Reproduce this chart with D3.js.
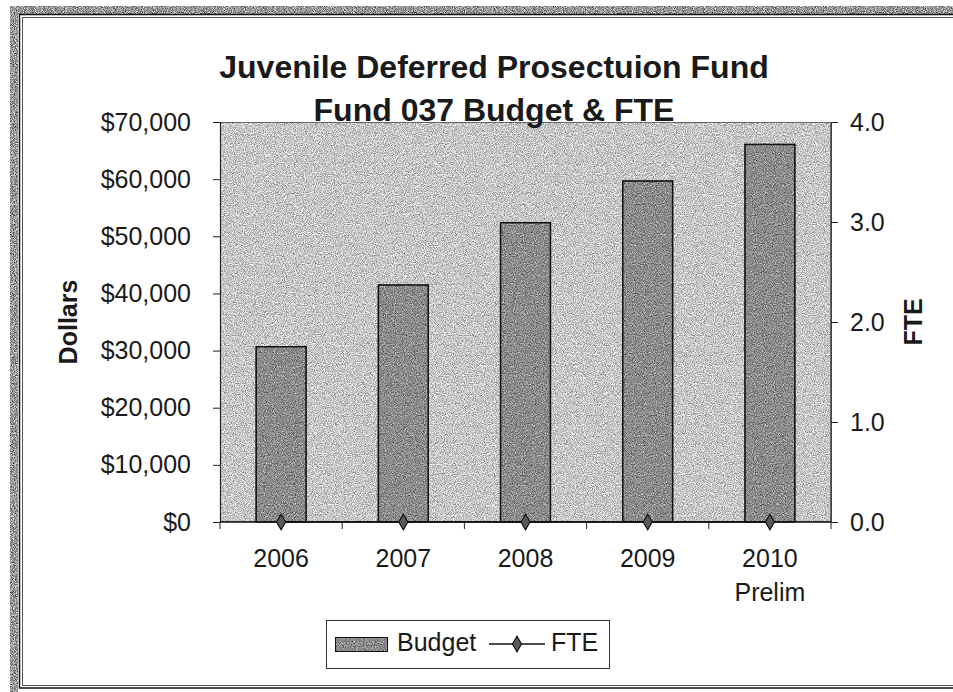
<!DOCTYPE html>
<html>
<head>
<meta charset="utf-8">
<script src="https://cdn.jsdelivr.net/npm/d3@7/dist/d3.min.js"></script>
<style>
  html, body { margin: 0; padding: 0; background: #fff; }
  svg { display: block; }
  text { font-family: "Liberation Sans", Arial, sans-serif; fill: #1a1a1a; }
</style>
</head>
<body>
<svg id="chart" width="953" height="692"></svg>
<script>
// Fund 037 budget (dollars) and staffing (FTE) by year
const categories = ["2006", "2007", "2008", "2009", "2010"];
const categorySub = ["", "", "", "", "Prelim"];
const budget = [30800, 41600, 52500, 59800, 66200];
const fte = [0, 0, 0, 0, 0];
const dollarTicks = [0, 10000, 20000, 30000, 40000, 50000, 60000, 70000];
const fteTicks = [0, 1, 2, 3, 4];
const titleLines = ["Juvenile Deferred Prosectuion Fund", "Fund 037 Budget & FTE"];

const W = 953, H = 692;
const plot = { left: 220, right: 831, top: 122, bottom: 522 };

const svg = d3.select("#chart");
const defs = svg.append("defs");

// speckled grain laid over a flat fill
function grainFilter(id, amount, seed) {
  const f = defs.append("filter").attr("id", id)
    .attr("x", 0).attr("y", 0).attr("width", 1).attr("height", 1)
    .attr("color-interpolation-filters", "sRGB");
  f.append("feTurbulence").attr("type", "fractalNoise")
    .attr("baseFrequency", 1.1).attr("numOctaves", 1).attr("seed", seed).attr("result", "noise");
  f.append("feColorMatrix").attr("in", "noise").attr("type", "matrix")
    .attr("values", "0.33 0.33 0.33 0 0  0.33 0.33 0.33 0 0  0.33 0.33 0.33 0 0  0 0 0 0 1")
    .attr("result", "gray");
  const ct = f.append("feComponentTransfer").attr("in", "gray").attr("result", "contrast");
  ["feFuncR", "feFuncG", "feFuncB"].forEach(fn =>
    ct.append(fn).attr("type", "linear").attr("slope", 3.2).attr("intercept", -1.1));
  f.append("feComposite").attr("in", "SourceGraphic").attr("in2", "contrast")
    .attr("operator", "arithmetic").attr("k1", 0).attr("k2", 1).attr("k3", amount).attr("k4", -amount / 2)
    .attr("result", "mix");
  f.append("feComposite").attr("in", "mix").attr("in2", "SourceAlpha").attr("operator", "in");
}
grainFilter("grainPlot", 0.55, 4);
grainFilter("grainBar", 0.5, 9);
grainFilter("grainFrame", 0.8, 2);

// page frame
svg.append("rect").attr("x", 0).attr("y", 0).attr("width", W).attr("height", H).attr("fill", "#fff");
svg.append("rect").attr("x", 10).attr("y", 6).attr("width", W - 10).attr("height", 8)
  .attr("fill", "#9a9a9a").attr("filter", "url(#grainFrame)");
svg.append("rect").attr("x", 10).attr("y", 6).attr("width", 8).attr("height", H - 6)
  .attr("fill", "#9a9a9a").attr("filter", "url(#grainFrame)");
svg.append("rect").attr("x", 18).attr("y", 14).attr("width", W + 10).attr("height", H - 14)
  .attr("fill", "#fff");
svg.append("rect").attr("x", 19.5).attr("y", 14.5).attr("width", W + 10).attr("height", 673.5)
  .attr("fill", "none").attr("stroke", "#111").attr("stroke-width", 1.5);
svg.append("rect").attr("x", 22.5).attr("y", 17.5).attr("width", W + 10).attr("height", 668)
  .attr("fill", "none").attr("stroke", "#555").attr("stroke-width", 1);

// scales
const x = d3.scaleBand().domain(categories)
  .range([plot.left, plot.right]).paddingInner(0.58).paddingOuter(0.29);
const y = d3.scaleLinear().domain([0, 70000]).range([plot.bottom, plot.top]);
const y2 = d3.scaleLinear().domain([0, 4]).range([plot.bottom, plot.top]);

// plot area
svg.append("rect").attr("x", plot.left).attr("y", plot.top)
  .attr("width", plot.right - plot.left).attr("height", plot.bottom - plot.top)
  .attr("fill", "#c9c9c9").attr("filter", "url(#grainPlot)");
svg.append("rect").attr("x", plot.left + 0.5).attr("y", plot.top + 0.5)
  .attr("width", plot.right - plot.left - 1).attr("height", plot.bottom - plot.top - 1)
  .attr("fill", "none").attr("stroke", "#666").attr("stroke-width", 1);

// budget bars
svg.append("g").selectAll("rect.bar").data(budget).join("rect")
  .attr("class", "bar")
  .attr("x", (d, i) => x(categories[i]))
  .attr("y", d => y(d))
  .attr("width", x.bandwidth())
  .attr("height", d => y(0) - y(d))
  .attr("fill", "#8d8d8d")
  .attr("filter", "url(#grainBar)");
svg.append("g").selectAll("rect.barEdge").data(budget).join("rect")
  .attr("class", "barEdge")
  .attr("x", (d, i) => x(categories[i]) + 0.75)
  .attr("y", d => y(d) + 0.75)
  .attr("width", x.bandwidth() - 1.5)
  .attr("height", d => y(0) - y(d) - 0.75)
  .attr("fill", "none").attr("stroke", "#111").attr("stroke-width", 1.5);

// left axis
const axL = svg.append("g").attr("transform", `translate(${plot.left},0)`)
  .call(d3.axisLeft(y).tickValues(dollarTicks).tickSize(7).tickPadding(22)
    .tickFormat(d => "$" + d3.format(",")(d)));
axL.select(".domain").attr("stroke", "#222").attr("stroke-width", 1.2);
axL.selectAll(".tick line").attr("stroke", "#222");
axL.selectAll(".tick text").attr("font-size", 25).attr("fill", "#1a1a1a")
  .attr("font-family", "Liberation Sans, Arial, sans-serif");

// right axis
const axR = svg.append("g").attr("transform", `translate(${plot.right},0)`)
  .call(d3.axisRight(y2).tickValues(fteTicks).tickSize(7).tickPadding(12)
    .tickFormat(d3.format(".1f")));
axR.select(".domain").attr("stroke", "#444").attr("stroke-width", 1);
axR.selectAll(".tick line").attr("stroke", "#222");
axR.selectAll(".tick text").attr("font-size", 25).attr("fill", "#1a1a1a")
  .attr("font-family", "Liberation Sans, Arial, sans-serif");

// category axis: baseline, ticks between categories, two-line labels
svg.append("line").attr("x1", plot.left).attr("x2", plot.right)
  .attr("y1", plot.bottom).attr("y2", plot.bottom)
  .attr("stroke", "#111").attr("stroke-width", 1.5);
const bounds = d3.range(categories.length + 1).map(i => plot.left + i * x.step());
svg.append("g").selectAll("line").data(bounds).join("line")
  .attr("x1", d => d).attr("x2", d => d)
  .attr("y1", plot.bottom).attr("y2", plot.bottom + 7)
  .attr("stroke", "#222").attr("stroke-width", 1);
const catG = svg.append("g").selectAll("text").data(categories).join("text")
  .attr("x", d => x(d) + x.bandwidth() / 2)
  .attr("y", 567)
  .attr("text-anchor", "middle").attr("font-size", 25)
  .text(d => d);
svg.append("g").selectAll("text").data(categorySub).join("text")
  .attr("x", (d, i) => x(categories[i]) + x.bandwidth() / 2)
  .attr("y", 601)
  .attr("text-anchor", "middle").attr("font-size", 25)
  .text(d => d);

// FTE line with diamond markers
const diamond = d3.symbol().type(d3.symbolDiamond).size(70);
const line = d3.line()
  .x((d, i) => x(categories[i]) + x.bandwidth() / 2)
  .y(d => y2(d));
svg.append("path").datum(fte).attr("d", line)
  .attr("fill", "none").attr("stroke", "#111").attr("stroke-width", 1.5);
svg.append("g").selectAll("path").data(fte).join("path")
  .attr("d", diamond)
  .attr("transform", (d, i) => `translate(${x(categories[i]) + x.bandwidth() / 2},${y2(d)})`)
  .attr("fill", "#5a5a5a").attr("stroke", "#111").attr("stroke-width", 1.2);

// axis titles
svg.append("text").attr("transform", `translate(68,${(plot.top + plot.bottom) / 2}) rotate(-90)`)
  .attr("text-anchor", "middle").attr("dominant-baseline", "central")
  .attr("font-size", 25).attr("font-weight", "bold").text("Dollars");
svg.append("text").attr("transform", `translate(913,${(plot.top + plot.bottom) / 2}) rotate(-90)`)
  .attr("text-anchor", "middle").attr("dominant-baseline", "central")
  .attr("font-size", 25).attr("font-weight", "bold").text("FTE");

// chart title
svg.append("g").selectAll("text").data(titleLines).join("text")
  .attr("x", 494).attr("y", (d, i) => 78 + i * 43)
  .attr("text-anchor", "middle").attr("font-size", 32).attr("font-weight", "bold")
  .attr("fill", "#2a2a2a")
  .text(d => d);

// legend
const lg = svg.append("g");
lg.append("rect").attr("x", 326.5).attr("y", 620.5).attr("width", 283).attr("height", 48)
  .attr("fill", "#fff").attr("stroke", "#333").attr("stroke-width", 1);
lg.append("rect").attr("x", 335).attr("y", 637).attr("width", 53).attr("height", 15)
  .attr("fill", "#8d8d8d").attr("filter", "url(#grainBar)");
lg.append("rect").attr("x", 335.5).attr("y", 637.5).attr("width", 52).attr("height", 14)
  .attr("fill", "none").attr("stroke", "#111").attr("stroke-width", 1);
lg.append("text").attr("x", 397).attr("y", 651).attr("font-size", 25).text("Budget");
lg.append("line").attr("x1", 489).attr("x2", 545).attr("y1", 644).attr("y2", 644)
  .attr("stroke", "#111").attr("stroke-width", 1.5);
lg.append("path").attr("d", diamond).attr("transform", "translate(517,644)")
  .attr("fill", "#5a5a5a").attr("stroke", "#111").attr("stroke-width", 1.2);
lg.append("text").attr("x", 551).attr("y", 651).attr("font-size", 25).text("FTE");
</script>
</body>
</html>
